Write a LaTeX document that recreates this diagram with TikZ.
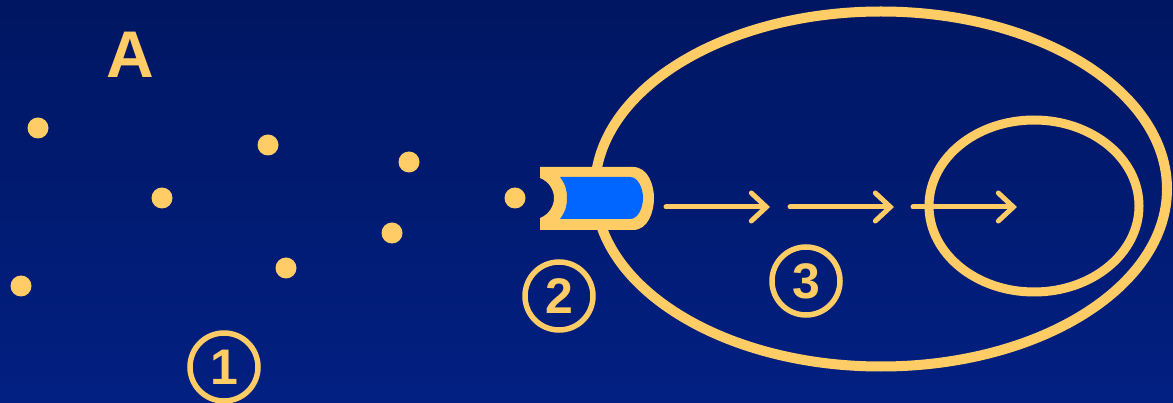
\documentclass[tikz,border=0pt]{standalone}
\usepackage{fontspec}
\setmainfont{Liberation Sans}
\usepackage{tikz}
\usetikzlibrary{arrows.meta,shapes.geometric}
\definecolor{gold}{RGB}{255,204,102}
\definecolor{navytop}{RGB}{0,22,98}
\definecolor{navybot}{RGB}{2,32,130}
\definecolor{capblue}{RGB}{0,102,255}
\tikzset{
  dot/.style    = {circle, fill=gold, minimum size=21pt, inner sep=0pt},
  numcirc/.style= {circle, draw=gold, line width=5.5pt, minimum size=68pt,
                   inner sep=0pt, text=gold, font=\fontsize{50}{50}\bfseries},
  orbit/.style  = {ellipse, draw=gold, inner sep=0pt},
  arr/.style    = {-{Straight Barb[length=15pt,width=28pt,line cap=round]},
                   line width=5pt, gold, line cap=round},
}

\begin{document}
\begin{tikzpicture}[x=1pt,y=-1pt]
  \useasboundingbox (0,0) rectangle (1173,403);
  \shade[top color=navytop, bottom color=navybot] (0,0) rectangle (1173,403);

  % label
  \node[text=gold, font=\fontsize{66}{66}\bfseries] (lbl) at (130,55) {A};

  % scattered particles
  \node[dot] (p1) at (38,128) {};
  \node[dot] (p2) at (268,145) {};
  \node[dot] (p3) at (409,162) {};
  \node[dot] (p4) at (162,198) {};
  \node[dot] (p5) at (392,233) {};
  \node[dot] (p6) at (286,268) {};
  \node[dot] (p7) at (21,286) {};
  \node[dot] (p8) at (515,198) {};

  % orbits
  \node[orbit, line width=10pt, minimum width=572pt, minimum height=355pt] (outer) at (881,189) {};
  \node[orbit, line width=9pt, minimum width=210pt, minimum height=172pt] (inner) at (1034,206) {};

  % entrance piece
  \fill[gold] (540,167) -- (633,167) .. controls (648,167) and (654,185) .. (654,198)
    .. controls (654,212) and (648,230) .. (633,230) -- (540,230) -- (540,218)
    .. controls (550,214) and (554,205) .. (554,198)
    .. controls (554,191) and (550,182) .. (540,178) -- cycle;
  \fill[capblue] (560,177) -- (630,177) .. controls (638,177) and (643,188) .. (643,198)
    .. controls (643,208) and (638,219) .. (630,219) -- (560,219)
    .. controls (566,211) and (567,205) .. (567,198)
    .. controls (567,191) and (566,185) .. (560,177) -- cycle;

  % steps along the path
  \coordinate (a1) at (666,207);
  \coordinate (a2) at (770,207);
  \coordinate (b1) at (790,207);
  \coordinate (b2) at (894,207);
  \coordinate (c1) at (913,207);
  \coordinate (c2) at (1017,207);
  \draw[arr] (a1) -- (a2);
  \draw[arr] (b1) -- (b2);
  \draw[arr] (c1) -- (c2);

  % numbers
  \node[numcirc] (n1) at (224,367) {1};
  \node[numcirc] (n2) at (559,296) {2};
  \node[numcirc] (n3) at (806,281) {3};
\end{tikzpicture}
\end{document}
